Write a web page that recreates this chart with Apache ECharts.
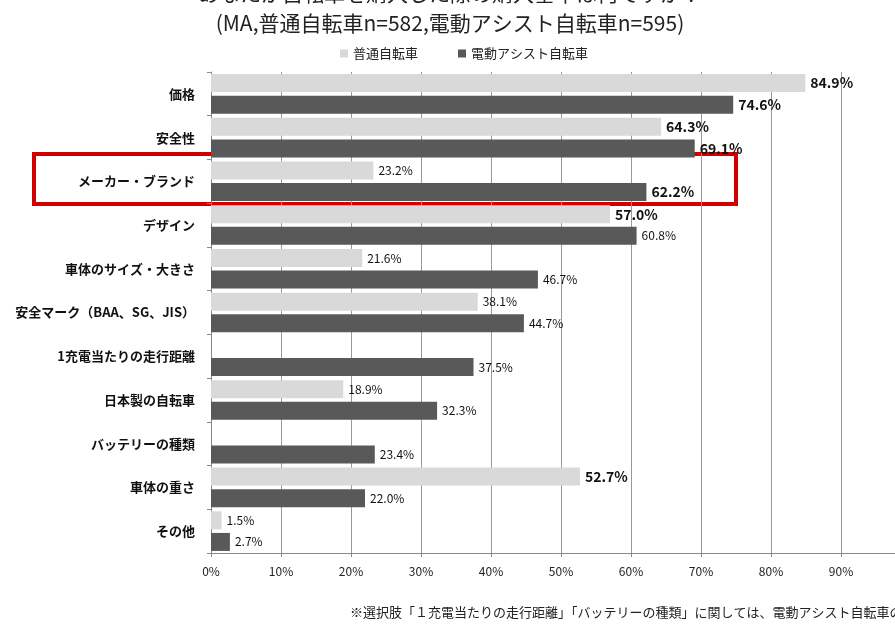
<!DOCTYPE html>
<html><head><meta charset="utf-8">
<script src="https://cdn.jsdelivr.net/npm/echarts@6/dist/echarts.min.js"></script>
<style>body{margin:0}#c{width:895px;height:627px}</style></head>
<body><div id="c"></div>
<script>
const categories=['価格','安全性','メーカー・ブランド','デザイン','車体のサイズ・大きさ','安全マーク（BAA、SG、JIS）','1充電当たりの走行距離','日本製の自転車','バッテリーの種類','車体の重さ','その他'];
const normalVals=[84.9,64.3,23.2,57.0,21.6,38.1,null,18.9,null,52.7,1.5];
const assistVals=[74.6,69.1,62.2,60.8,46.7,44.7,37.5,32.3,23.4,22.0,2.7];
const boldNormal=[true,true,false,true,false,false,false,false,false,true,false];
const boldAssist=[true,true,true,false,false,false,false,false,false,false,false];
const xTicks=[0,10,20,30,40,50,60,70,80,90,100];
const F='"Noto Sans CJK JP", sans-serif';
function mk(vals,bold){return vals.map((v,i)=>({value:v,label:bold[i]?{fontWeight:'bold',fontSize:14}:{fontSize:12}}));}
const chart=echarts.init(document.getElementById('c'));
chart.setOption({
 animation:false,
 textStyle:{fontFamily:F},
 title:{text:'あなたが自転車を購入した際の購入基準は何ですか？\n(MA,普通自転車n=582,電動アシスト自転車n=595)',left:445,textAlign:'center',top:-27,textStyle:{fontSize:21,fontWeight:'normal',color:'#222',lineHeight:30,fontFamily:F}},
 legend:{top:42,left:335,itemWidth:8,itemHeight:8,itemGap:40,icon:'rect',textStyle:{fontSize:13,color:'#222'},data:['普通自転車','電動アシスト自転車']},
 grid:{left:211,top:72,width:700,height:481,containLabel:false,outerBoundsMode:'none'},
 xAxis:{type:'value',min:0,max:100,interval:10,axisLabel:{formatter:'{value}%',color:'#222',fontSize:12,margin:12},
   axisLine:{show:true,lineStyle:{color:'#888'}},axisTick:{show:true,length:4,lineStyle:{color:'#888'}},splitLine:{lineStyle:{color:'#999'}}},
 yAxis:{type:'category',inverse:true,data:categories,axisLabel:{fontWeight:'bold',fontSize:13,color:'#111',margin:16},axisTick:{show:true,length:4,lineStyle:{color:'#888'}},axisLine:{lineStyle:{color:'#888'}}},
 series:[
  {name:'普通自転車',type:'bar',barWidth:18,barGap:'20%',itemStyle:{color:'#d9d9d9'},data:mk(normalVals,boldNormal),
   label:{show:true,position:'right',formatter:p=>p.value.toFixed(1)+'%',color:'#111'}},
  {name:'電動アシスト自転車',type:'bar',barWidth:18,itemStyle:{color:'#595959'},data:mk(assistVals,boldAssist),
   label:{show:true,position:'right',formatter:p=>p.value.toFixed(1)+'%',color:'#111'}}
 ],
 graphic:[
  {type:'rect',shape:{x:34,y:154,width:702,height:50},style:{fill:'none',stroke:'#d00000',lineWidth:4}},
  {type:'text',left:350,top:606,style:{text:'※選択肢「１充電当たりの走行距離」「バッテリーの種類」に関しては、電動アシスト自転車のみ',fontSize:13,fill:'#222',fontFamily:F}}
 ]
});
</script></body></html>
